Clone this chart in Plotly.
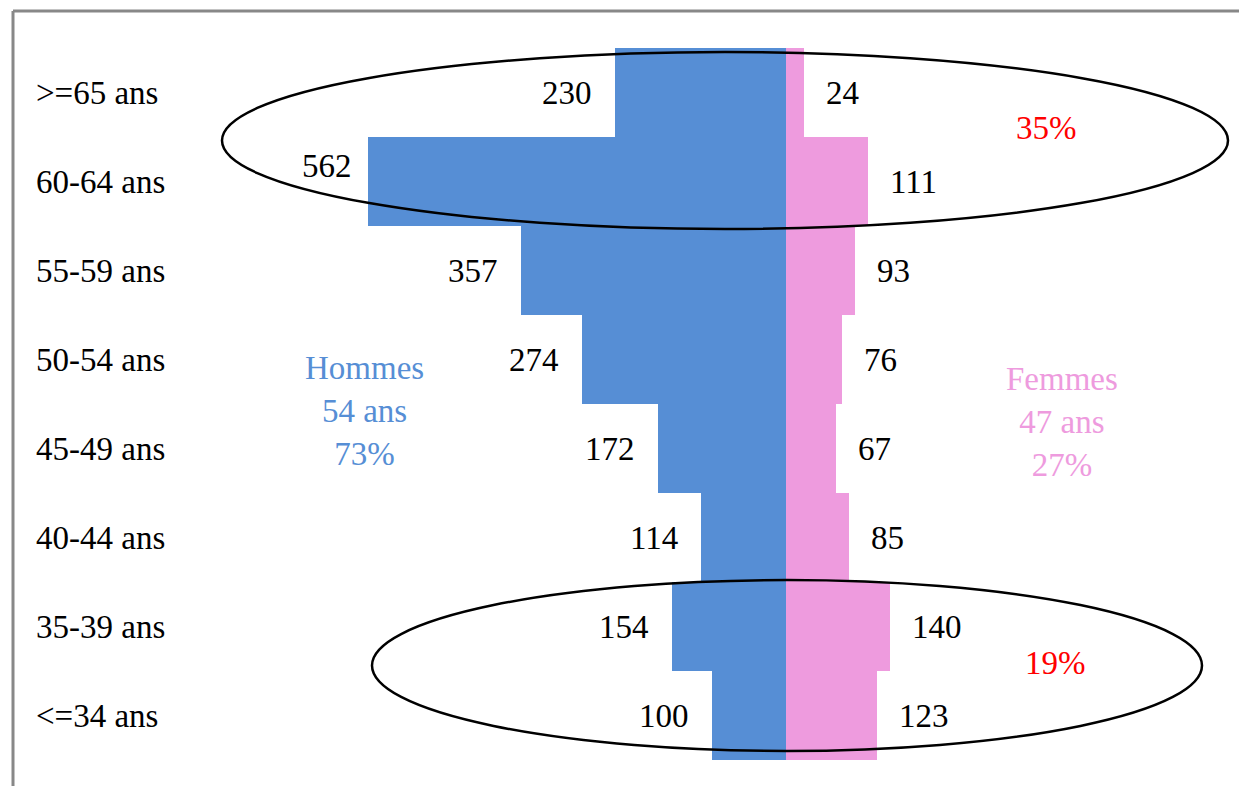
import plotly.graph_objects as go

# Data (bottom to top)
categories = ["<=34 ans", "35-39 ans", "40-44 ans", "45-49 ans",
              "50-54 ans", "55-59 ans", "60-64 ans", ">=65 ans"]
hommes = [100, 154, 114, 172, 274, 357, 562, 230]
femmes = [123, 140, 85, 67, 76, 93, 111, 24]

BLUE = "#568ED5"
PINK = "#EE9BDE"
FONT = "Liberation Serif"
FS = 33

W, H = 1247, 794
OFF = 8  # page body margin offset
FW, FH = W - 2 * OFF, H - 2 * OFF
center_px = 786 - OFF
px_per_unit = 0.743
units_per_px = 1 / px_per_unit
xr = [-center_px * units_per_px, (FW - center_px) * units_per_px]

cat_px = 89.0
bottom_center_px = 715.5 - OFF
ylo = -(FH - bottom_center_px) / cat_px
yr = [ylo, ylo + FH / cat_px]

fig = go.Figure()
fig.add_trace(go.Bar(y=categories, x=[-v for v in hommes], orientation="h",
                     width=1, marker=dict(color=BLUE, line=dict(width=0)),
                     name="Hommes", hoverinfo="skip"))
fig.add_trace(go.Bar(y=categories, x=femmes, orientation="h",
                     width=1, marker=dict(color=PINK, line=dict(width=0)),
                     name="Femmes", hoverinfo="skip"))


def px(x, y):
    return (x - OFF) / FW, 1 - (y - OFF) / FH


ann = []
# category labels
for c in categories:
    ann.append(dict(x=px(34, 0)[0], xref="paper", y=c, yref="y", text=c,
                    xanchor="left", yanchor="middle", showarrow=False,
                    font=dict(family=FONT, size=FS, color="black")))
# value labels
for c, v in zip(categories, hommes):
    xs, ys = -21, 0
    if v == 562:
        xs, ys = -14, 16
    ann.append(dict(x=-v, y=c, xref="x", yref="y", text=str(v), xanchor="right",
                    yanchor="middle", xshift=xs, yshift=ys, showarrow=False,
                    font=dict(family=FONT, size=FS, color="black")))
for c, v in zip(categories, femmes):
    ann.append(dict(x=v, y=c, xref="x", yref="y", text=str(v), xanchor="left",
                    yanchor="middle", xshift=20, showarrow=False,
                    font=dict(family=FONT, size=FS, color="black")))

hx, hy = px(365, 411)
ann.append(dict(x=hx, y=hy, xref="paper", yref="paper", text="Hommes<br>54 ans<br>73%",
                xanchor="center", yanchor="middle", showarrow=False, align="center",
                font=dict(family=FONT, size=FS, color=BLUE)))
fx, fy = px(1062, 422)
ann.append(dict(x=fx, y=fy, xref="paper", yref="paper", text="Femmes<br>47 ans<br>27%",
                xanchor="center", yanchor="middle", showarrow=False, align="center",
                font=dict(family=FONT, size=FS, color=PINK)))
for t, (xx, yy) in [("35%", (1046, 128)), ("19%", (1055, 663))]:
    a, b = px(xx, yy)
    ann.append(dict(x=a, y=b, xref="paper", yref="paper", text=t, xanchor="center",
                    yanchor="middle", showarrow=False,
                    font=dict(family=FONT, size=FS, color="#FF0000")))

shapes = []
# frame (top and left edges only visible)
fx0, fy1 = px(13, 11)
shapes.append(dict(type="line", xref="paper", yref="paper", x0=fx0, x1=1,
                   y0=fy1, y1=fy1, line=dict(color="#888888", width=3), layer="below"))
shapes.append(dict(type="line", xref="paper", yref="paper", x0=fx0, x1=fx0,
                   y0=0, y1=fy1, line=dict(color="#888888", width=3), layer="below"))
# ellipses
for (x0, y0, x1, y1) in [(222, 52, 1228, 229), (372, 580, 1202, 751)]:
    a0, b1 = px(x0, y0)
    a1, b0 = px(x1, y1)
    shapes.append(dict(type="circle", xref="paper", yref="paper", x0=a0, x1=a1,
                       y0=b0, y1=b1, line=dict(color="black", width=2.5),
                       fillcolor="rgba(0,0,0,0)", layer="above"))

fig.update_layout(
    width=FW, height=FH, margin=dict(l=0, r=0, t=0, b=0),
    paper_bgcolor="white", plot_bgcolor="white",
    barmode="relative", bargap=0, showlegend=False,
    xaxis=dict(range=xr, visible=False, fixedrange=True),
    yaxis=dict(range=yr, visible=False, fixedrange=True,
               categoryorder="array", categoryarray=categories),
    annotations=ann, shapes=shapes,
)
fig.write_html("out.html")
